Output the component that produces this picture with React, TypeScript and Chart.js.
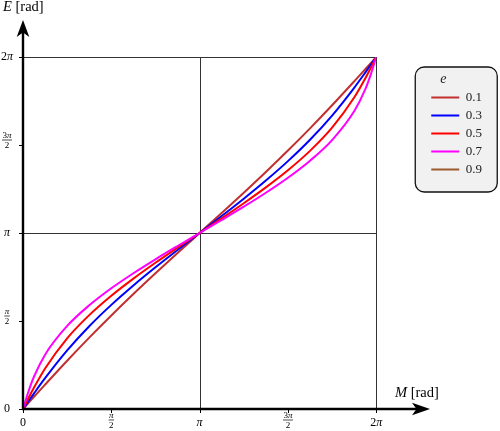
import React, { useEffect, useRef } from 'react';
import { Chart, registerables } from 'chart.js';

Chart.register(...registerables);

// Mean anomaly M (rad) sample positions
const M_VALUES = [
  0, 0.0982, 0.1963, 0.3927, 0.7854, 1.1781, 1.5708, 1.9635, 2.3562, 2.7489, 3.1416,
  3.5343, 3.927, 4.3197, 4.7124, 5.1051, 5.4978, 5.8905, 6.0869, 6.185, 6.2832,
];
// Eccentric anomaly E (rad) read for each eccentricity
const E_01 = [
  0, 0.1091, 0.218, 0.4348, 0.8613, 1.2737, 1.6703, 2.0521, 2.422, 2.7839, 3.1416,
  3.4993, 3.8612, 4.2311, 4.6129, 5.0095, 5.4219, 5.8484, 6.0652, 6.1741, 6.2832,
];
const E_03 = [
  0, 0.14, 0.2791, 0.5493, 1.0448, 1.4768, 1.8585, 2.2051, 2.5289, 2.8383, 3.1416,
  3.4449, 3.7543, 4.0781, 4.4247, 4.8064, 5.2384, 5.7339, 6.0041, 6.1432, 6.2832,
];
const E_05 = [
  0, 0.1951, 0.3834, 0.7238, 1.2618, 1.6754, 2.021, 2.327, 2.6097, 2.8788, 3.1416,
  3.4044, 3.6735, 3.9562, 4.2622, 4.6078, 5.0214, 5.5594, 5.8998, 6.0881, 6.2832,
];
const E_07 = [
  0, 0.3151, 0.5798, 0.9702, 1.4827, 1.8508, 2.1551, 2.4237, 2.6726, 2.9096, 3.1416,
  3.3736, 3.6106, 3.8595, 4.1281, 4.4324, 4.8005, 5.313, 5.7034, 5.9681, 6.2832,
];
// e = 0.9 appears in the legend only; no curve is drawn in the reference
const E_09: number[] = [];

const ECC_LABELS = ['0.1', '0.3', '0.5', '0.7', '0.9'];
const SERIES = [E_01, E_03, E_05, E_07, E_09];
const COLORS = ['#c1302f', '#0000ff', '#ff0000', '#ff00ff', '#9b5b2e'];

const TICK_VALUES = [0, Math.PI / 2, Math.PI, (3 * Math.PI) / 2, 2 * Math.PI];
const TICK_LABELS: string[][] = [['0'], ['π', '2'], ['π'], ['3π', '2'], ['2π']];
const GRID_VALUES = [Math.PI, 2 * Math.PI];
const AXIS_MAX = 2 * Math.PI;

const X_TITLE = 'M [rad]';
const Y_TITLE = 'E [rad]';
const LEGEND_TITLE = 'e';

const SERIF = '"Liberation Serif", "DejaVu Serif", serif';

function drawRuns(
  ctx: CanvasRenderingContext2D,
  text: string,
  x: number,
  y: number,
  size: number,
  align: 'left' | 'center' | 'right'
) {
  const parts: { t: string; it: boolean }[] = [];
  for (const ch of text) {
    const it = /[πEMe]/.test(ch);
    const last = parts[parts.length - 1];
    if (last && last.it === it) last.t += ch;
    else parts.push({ t: ch, it });
  }
  const fontOf = (it: boolean) => `${it ? 'italic ' : ''}${size}px ${SERIF}`;
  let total = 0;
  for (const p of parts) {
    ctx.font = fontOf(p.it);
    total += ctx.measureText(p.t).width;
  }
  let cx = align === 'left' ? x : align === 'center' ? x - total / 2 : x - total;
  ctx.textAlign = 'left';
  ctx.textBaseline = 'middle';
  for (const p of parts) {
    ctx.font = fontOf(p.it);
    ctx.fillText(p.t, cx, y);
    cx += ctx.measureText(p.t).width;
  }
  return total;
}

function drawFrac(ctx: CanvasRenderingContext2D, num: string, den: string, x: number, yBar: number, size: number) {
  const w1 = drawRuns(ctx, num, x, yBar - size * 0.5, size, 'center');
  const w2 = drawRuns(ctx, den, x, yBar + size * 0.62, size, 'center');
  const w = Math.max(w1, w2) + 1;
  ctx.fillRect(x - w / 2, yBar - 0.35, w, 0.7);
}

function drawLabel(ctx: CanvasRenderingContext2D, lab: string[], x: number, y: number, fracBarY: number) {
  if (lab.length === 2) drawFrac(ctx, lab[0], lab[1], x, fracBarY, 9);
  else drawRuns(ctx, lab[0], x, y, 12, 'center');
}

const decor = {
  id: 'decor',
  beforeDraw(chart: any) {
    const lg = chart.legend;
    if (!lg) return;
    const ctx: CanvasRenderingContext2D = chart.ctx;
    ctx.save();
    const x = lg.left - 11;
    const y = lg.top + 10;
    ctx.beginPath();
    (ctx as any).roundRect(x, y, 82, 125, 9);
    ctx.fillStyle = '#f1f1f1';
    ctx.fill();
    ctx.lineWidth = 1.3;
    ctx.strokeStyle = '#111';
    ctx.stroke();
    ctx.restore();
  },
  beforeDatasetsDraw(chart: any) {
    const ctx: CanvasRenderingContext2D = chart.ctx;
    const xs = chart.scales.x;
    const ys = chart.scales.y;
    const x0 = xs.getPixelForValue(0);
    const x1 = xs.getPixelForValue(AXIS_MAX);
    const y0 = ys.getPixelForValue(0);
    const y1 = ys.getPixelForValue(AXIS_MAX);
    ctx.save();
    ctx.strokeStyle = '#333';
    ctx.lineWidth = 1;
    for (const v of GRID_VALUES) {
      const px = Math.round(xs.getPixelForValue(v)) + 0.5;
      ctx.beginPath();
      ctx.moveTo(px, y0);
      ctx.lineTo(px, y1);
      ctx.stroke();
      const py = Math.round(ys.getPixelForValue(v)) + 0.5;
      ctx.beginPath();
      ctx.moveTo(x0, py);
      ctx.lineTo(x1, py);
      ctx.stroke();
    }
    ctx.restore();
  },
  afterDatasetsDraw(chart: any) {
    const ctx: CanvasRenderingContext2D = chart.ctx;
    const xs = chart.scales.x;
    const ys = chart.scales.y;
    const x0 = xs.getPixelForValue(0);
    const y0 = ys.getPixelForValue(0);
    ctx.save();
    ctx.strokeStyle = '#000';
    ctx.fillStyle = '#000';
    // axes
    ctx.lineWidth = 2.4;
    const yTip = 20;
    const xTip = 430;
    ctx.beginPath();
    ctx.moveTo(x0, y0 + 1);
    ctx.lineTo(x0, yTip + 12);
    ctx.stroke();
    ctx.beginPath();
    ctx.moveTo(x0 - 1, y0);
    ctx.lineTo(xTip - 12, y0);
    ctx.stroke();
    // arrow heads
    ctx.beginPath();
    ctx.moveTo(x0, yTip);
    ctx.lineTo(x0 + 6.3, yTip + 17);
    ctx.lineTo(x0, yTip + 12.5);
    ctx.lineTo(x0 - 6.3, yTip + 17);
    ctx.closePath();
    ctx.fill();
    ctx.beginPath();
    ctx.moveTo(xTip, y0);
    ctx.lineTo(xTip - 18, y0 - 6.3);
    ctx.lineTo(xTip - 13.5, y0);
    ctx.lineTo(xTip - 18, y0 + 6.3);
    ctx.closePath();
    ctx.fill();
    // tick marks
    ctx.lineWidth = 1;
    TICK_VALUES.forEach((v) => {
      const px = Math.round(xs.getPixelForValue(v)) + 0.5;
      ctx.beginPath();
      ctx.moveTo(px, y0);
      ctx.lineTo(px, y0 + 4);
      ctx.stroke();
      const py = Math.round(ys.getPixelForValue(v)) + 0.5;
      ctx.beginPath();
      ctx.moveTo(x0 - 4, py);
      ctx.lineTo(x0, py);
      ctx.stroke();
    });
    // tick labels
    TICK_VALUES.forEach((v, i) => {
      const lab = TICK_LABELS[i];
      const px = xs.getPixelForValue(v);
      drawLabel(ctx, lab, px, 423, 420);
      const py = ys.getPixelForValue(v);
      drawLabel(ctx, lab, 7, py, py - 5);
    });
    // axis titles
    drawRuns(ctx, Y_TITLE, 3, 7, 14.5, 'left');
    drawRuns(ctx, X_TITLE, 395, 393, 14.5, 'left');
    ctx.restore();
  },
};

export default function App() {
  const ref = useRef<HTMLCanvasElement>(null);
  useEffect(() => {
    const canvas = ref.current;
    if (!canvas) return;
    const datasets = SERIES.map((ys, i) => ({
      label: ECC_LABELS[i],
      data: ys.map((y, j) => ({ x: M_VALUES[j], y })),
      borderColor: COLORS[i],
      backgroundColor: COLORS[i],
      borderWidth: 2,
      pointRadius: 0,
      fill: false,
      cubicInterpolationMode: 'monotone' as const,
      order: SERIES.length - i,
    }));
    const chart = new Chart(canvas, {
      type: 'line',
      data: { datasets },
      options: {
        animation: false,
        responsive: false,
        layout: { padding: { left: 23, top: 57, bottom: 22, right: 8 } },
        scales: {
          x: { type: 'linear', min: 0, max: AXIS_MAX, display: false },
          y: { type: 'linear', min: 0, max: AXIS_MAX, display: false },
          pad: {
            type: 'linear',
            position: 'right',
            display: true,
            grid: { display: false },
            border: { display: false },
            ticks: { display: false },
            afterFit: (s: any) => {
              s.width = 50;
            },
          },
        },
        plugins: {
          tooltip: { enabled: false },
          legend: {
            display: true,
            position: 'right',
            align: 'start',
            title: {
              display: true,
              text: '    ' + LEGEND_TITLE,
              position: 'start',
              color: '#222',
              font: { family: SERIF, size: 14, style: 'italic', lineHeight: 1 },
              padding: { top: 15, bottom: 0 },
            },
            labels: {
              usePointStyle: true,
              pointStyle: 'line',
              pointStyleWidth: 28,
              padding: 5,
              color: '#222',
              font: { family: SERIF, size: 13 },
              sort: (a: any, b: any) => a.datasetIndex - b.datasetIndex,
            },
          },
        },
      } as any,
      plugins: [decor],
    });
    return () => chart.destroy();
  }, []);
  return (
    <div style={{ position: 'fixed', left: 0, top: 0, width: 500, height: 431, background: '#fff' }}>
      <canvas ref={ref} width={500} height={431} style={{ display: 'block' }} />
    </div>
  );
}
